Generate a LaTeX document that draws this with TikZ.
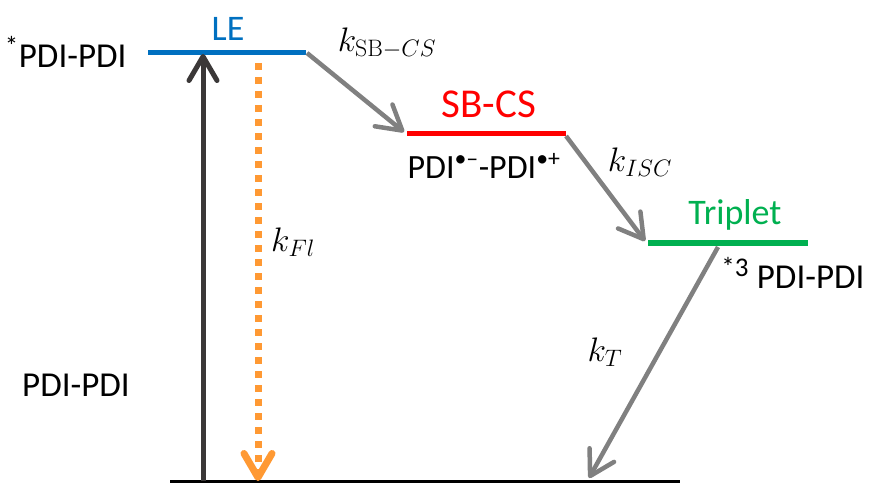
\RequirePackage{fix-cm}
\documentclass[tikz,border=0pt]{standalone}
\usepackage[no-math]{fontspec}
\setmainfont{Carlito}
\usetikzlibrary{arrows.meta}
\definecolor{leblue}{RGB}{0,112,192}
\definecolor{sbred}{RGB}{255,0,0}
\definecolor{tgreen}{RGB}{0,176,80}
\definecolor{agray}{RGB}{128,128,128}
\definecolor{adark}{RGB}{59,56,56}
\definecolor{aorange}{RGB}{255,153,51}
\newcommand{\bigsup}[1]{\textsuperscript{\fontsize{27}{27}\selectfont #1}}
\tikzset{
  level/.style={line width=5.5pt},
  tip/.style={-{Straight Barb[length=24pt,width=28pt,round]}},
  grayarrow/.style={tip, draw=agray, line width=4.5pt},
  statelabel/.style={font=\fontsize{36}{40}\selectfont},
  molabel/.style={font=\fontsize{35}{40}\selectfont},
  ratelabel/.style={font=\fontsize{34}{38}\selectfont}
}
\begin{document}
\begin{tikzpicture}[x=1pt,y=-1pt]
\useasboundingbox (0,0) rectangle (869,484);
% level end points
\coordinate (LEl) at (148,52.5);
\coordinate (LEr) at (306,52.5);
\coordinate (SBl) at (407,133.5);
\coordinate (SBr) at (566,133.5);
\coordinate (Tl) at (648,243);
\coordinate (Tr) at (808,243);
\coordinate (Gl) at (170,481.5);
\coordinate (Gr) at (680,481.5);
% arrow anchors
\coordinate (upS) at (203,481);
\coordinate (upE) at (203,54);
\coordinate (flS) at (258,63);
\coordinate (flE) at (258,481);
\coordinate (a1S) at (307,53);
\coordinate (a1E) at (404,132);
\coordinate (a2S) at (566,136);
\coordinate (a2E) at (645,241);
\coordinate (a3S) at (718,247);
\coordinate (a3E) at (589,478);
% levels
\draw[level, leblue] (LEl) -- (LEr);
\draw[level, sbred] (SBl) -- (SBr);
\draw[level, tgreen] (Tl) -- (Tr);
\draw[line width=3pt, black] (Gl) -- (Gr);
% arrows
\draw[tip, draw=adark, line width=5pt] (upS) -- (upE);
\draw[tip, draw=aorange, line width=7pt, dash pattern=on 7pt off 7pt] (flS) -- (flE);
\draw[grayarrow] (a1S) -- (a1E);
\draw[grayarrow] (a2S) -- (a2E);
\draw[grayarrow] (a3S) -- (a3E);
% labels
\node[statelabel, text=leblue] (le) at (228,29) {LE};
\node[statelabel, text=sbred, font=\fontsize{41}{46}\selectfont] (sb) at (489,104) {SB-CS};
\node[statelabel, text=tgreen] (tr) at (735,215) {Triplet};
\node[molabel, anchor=east] (m1) at (130,52) {\bigsup{*}PDI-PDI};
\node[molabel, font=\fontsize{34}{38}\selectfont] (m2) at (484,166) {PDI\textsuperscript{•–}-PDI\textsuperscript{•+}};
\node[molabel, anchor=east] (m3) at (868,273) {\bigsup{*3} PDI-PDI};
\node[molabel] (m4) at (76,385) {PDI-PDI};
\node[ratelabel] (k1) at (387,43) {$k_{\mathrm{SB}-CS}$};
\node[ratelabel] (k2) at (640,162) {$k_{ISC}$};
\node[ratelabel] (k3) at (605,352) {$k_{T}$};
\node[ratelabel] (k4) at (293,242) {$k_{Fl}$};
\end{tikzpicture}
\end{document}
